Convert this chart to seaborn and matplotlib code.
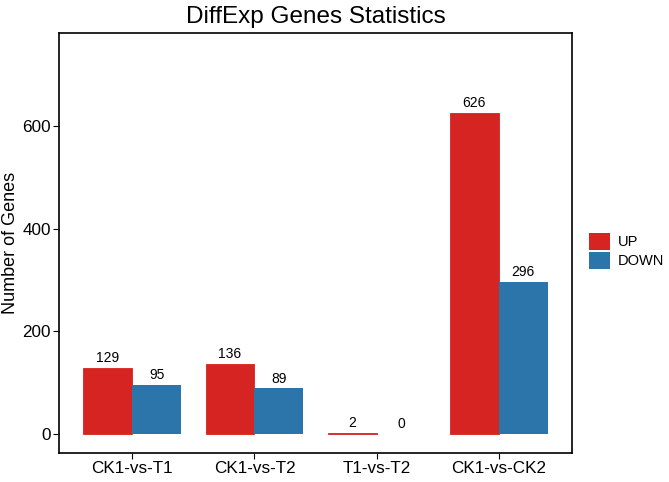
import pandas as pd
import matplotlib
matplotlib.use("Agg")
import matplotlib.pyplot as plt
import seaborn as sns

# 数据
groups = ["CK1-vs-T1", "CK1-vs-T2", "T1-vs-T2", "CK1-vs-CK2"]
up_counts = [129, 136, 2, 626]
down_counts = [95, 89, 0, 296]
regulation = ["UP", "DOWN"]
colors = ["#D52421", "#2C75AA"]

df = pd.DataFrame({
    "group": groups * 2,
    "type": ["UP"] * len(groups) + ["DOWN"] * len(groups),
    "count": up_counts + down_counts,
})

sns.set_style("white")
plt.rcParams['font.family'] = ['Liberation Sans', 'DejaVu Sans']
plt.rcParams['text.color'] = 'black'
plt.rcParams['axes.labelcolor'] = 'black'

fig = plt.figure(figsize=(6.69, 4.82), dpi=100)
ax = fig.add_axes([0.0882, 0.0602, 0.767, 0.871])

sns.barplot(data=df, x="group", y="count", hue="type", hue_order=regulation,
            palette=colors, width=0.8, saturation=1, errorbar=None,
            linewidth=0, ax=ax)

# UP 柱子加同色描边，让很小的值也能看到
for p in ax.containers[0]:
    p.set_edgecolor(p.get_facecolor())
    p.set_linewidth(0.6)

for cont in ax.containers:
    ax.bar_label(cont, padding=2, fontsize=10, color="black")

ax.set_xlim(-0.6, 3.6)
ax.set_ylim(-37, 781)
ax.set_yticks([0, 200, 400, 600])
ax.set_xlabel("")
ax.set_ylabel("Number of Genes", fontsize=13, color="black")
ax.yaxis.set_label_coords(-0.077, 0.5)
ax.set_title("DiffExp Genes Statistics", fontsize=17.5, pad=7, color="black")
ax.tick_params(axis="both", labelsize=12.3, length=4, width=0.8, direction="out",
               bottom=True, left=True, colors="black", pad=2)
for s in ax.spines.values():
    s.set_color("black")
    s.set_linewidth(1.2)

ax.legend(title=None, frameon=False, loc="center left",
          bbox_to_anchor=(589 / 669, 1 - 251 / 482), bbox_transform=fig.transFigure,
          borderaxespad=0, borderpad=0, fontsize=10.5, handlelength=1.45,
          handleheight=1.45, labelspacing=0.1, handletextpad=0.5)

fig.savefig("out.png", dpi=100)
